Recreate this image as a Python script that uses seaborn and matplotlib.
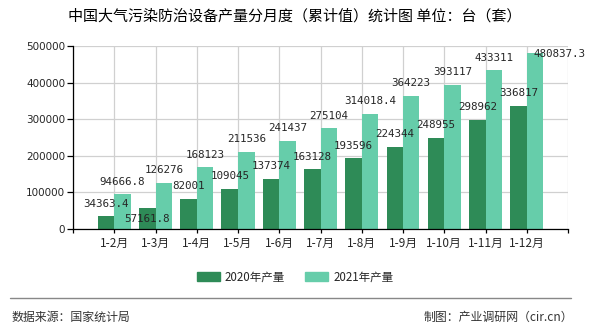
import matplotlib
matplotlib.use("Agg")
import matplotlib.pyplot as plt
import seaborn as sns
import pandas as pd
from matplotlib.patches import Patch

categories = ["1-2月", "1-3月", "1-4月", "1-5月", "1-6月", "1-7月", "1-8月", "1-9月", "1-10月", "1-11月", "1-12月"]
values_2020 = [34363.4, 57161.8, 82001, 109045, 137374, 163128, 193596, 224344, 248955, 298962, 336817]
values_2021 = [94666.8, 126276, 168123, 211536, 241437, 275104, 314018.4, 364223, 393117, 433311, 480837.3]
labels_2020 = ["34363.4", "57161.8", "82001", "109045", "137374", "163128", "193596", "224344", "248955", "298962", "336817"]
labels_2021 = ["94666.8", "126276", "168123", "211536", "241437", "275104", "314018.4", "364223", "393117", "433311", "480837.3"]
series = ["2020年产量", "2021年产量"]
yticks = [0, 100000, 200000, 300000, 400000, 500000]

colors = ["#2e8b57", "#66cdaa"]

sns.set_theme(style="white")
plt.rcParams['font.family'] = ['Noto Sans CJK SC', 'DejaVu Sans']

df = pd.DataFrame({
    "cat": categories * 2,
    "val": values_2020 + values_2021,
    "series": [series[0]] * len(categories) + [series[1]] * len(categories),
})
order = [""] + categories  # blank first slot so categories sit on 1..11

fig = plt.figure(figsize=(5.9, 3.3), dpi=100)
ax = fig.add_axes([73/590, 1-229/330, (568-73)/590, (229-46)/330])

sns.barplot(data=df, x="cat", y="val", hue="series", order=order,
            palette=colors, width=0.8, ax=ax, saturation=1,
            legend=False, linewidth=0, edgecolor="none")
ax.set_xlim(0, 12)
ax.set_ylim(0, 500000)
ax.set_yticks(yticks)
ax.set_yticklabels([str(v) for v in yticks], fontsize=7.5, family=['DejaVu Sans'])
ax.set_xticks(range(0, 13))
ax.set_xticklabels([""] + categories + [""], fontsize=8.5)
ax.set_xlabel("")
ax.set_ylabel("")
ax.grid(True, color="#d0d0d0", linewidth=0.9)
ax.set_axisbelow(True)
for s in ["top", "right"]:
    ax.spines[s].set_visible(False)
for s in ["left", "bottom"]:
    ax.spines[s].set_color("black")
    ax.spines[s].set_linewidth(0.9)
ax.tick_params(axis="y", length=4.5, width=0.9, color="black", pad=1, left=True)
ax.tick_params(axis="x", length=3, width=0.9, color="black", pad=3, bottom=True)

# label placement tweaks (points) where the reference moved labels off their bars
nudge_2020 = {1: (0, -11.5, "center", "bottom")}
nudge_2021 = {10: (-1, -1, "left", "center")}
for i, (v1, v2) in enumerate(zip(values_2020, values_2021)):
    x = i + 1
    dx, dy, ha, va = nudge_2020.get(i, (0, 5.5, "center", "bottom"))
    ax.annotate(labels_2020[i], (x - 0.2, v1), xytext=(dx, dy),
                textcoords="offset points", ha=ha, va=va,
                fontsize=7.8, family=['DejaVu Sans Mono'], annotation_clip=False)
    dx, dy, ha, va = nudge_2021.get(i, (0, 5.5, "center", "bottom"))
    ax.annotate(labels_2021[i], (x + 0.2, v2), xytext=(dx, dy),
                textcoords="offset points", ha=ha, va=va,
                fontsize=7.8, family=['DejaVu Sans Mono'], annotation_clip=False)

fig.text(0.5, 1-16/330, "中国大气污染防治设备产量分月度（累计值）统计图 单位：台（套）",
         ha="center", va="center", fontsize=10.8, color="black")

handles = [Patch(color=colors[0]), Patch(color=colors[1])]
fig.legend(handles, series, loc="center", bbox_to_anchor=(0.5, 1-277/330), ncol=2,
           frameon=False, fontsize=8.3, handlelength=2.0, handleheight=0.9,
           columnspacing=1.8, handletextpad=0.4)

fig.add_artist(plt.Line2D([10/590, 571/590], [1-298/330, 1-298/330], color="#888888", linewidth=1.0))
fig.text(12/590, 1-317/330, "数据来源：国家统计局", ha="left", va="center", fontsize=8.6, color="#333333")
fig.text(573/590, 1-317/330, "制图：产业调研网（cir.cn）", ha="right", va="center", fontsize=8.6, color="#333333")

fig.savefig("out.png", dpi=100)
